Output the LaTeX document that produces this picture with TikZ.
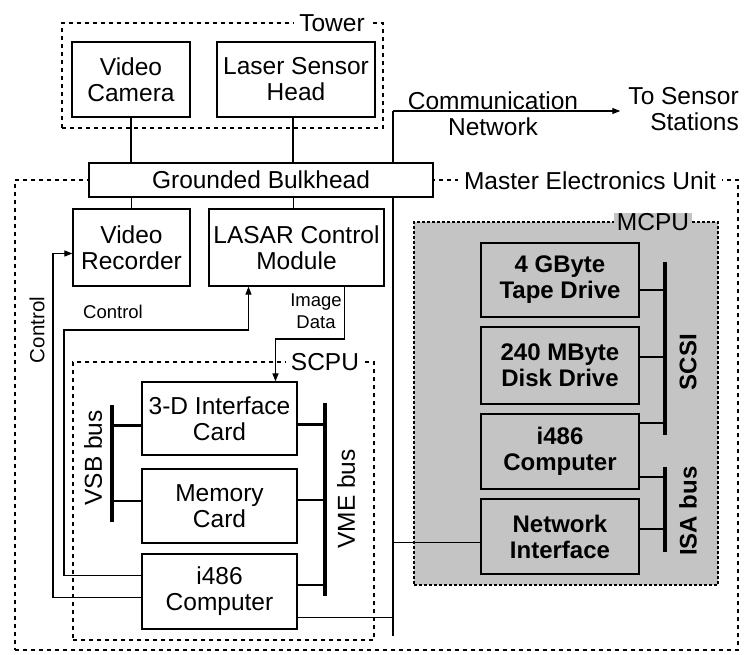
\documentclass[tikz,border=0pt]{standalone}
\usepackage{fontspec}
\setmainfont{Liberation Sans}
\usetikzlibrary{arrows.meta,calc}
\definecolor{mgray}{gray}{0.77}
\begin{document}
\begin{tikzpicture}[x=1pt,y=-1pt,
  lbl/.style={font=\fontsize{24.5}{26}\selectfont, align=center, inner sep=0pt},
  slbl/.style={font=\fontsize{18.5}{22}\selectfont, align=center, inner sep=0pt},
  box/.style={draw, line width=1.2pt, fill=white, lbl},
  mbox/.style={draw, line width=1.8pt, fill=mgray, lbl, font=\bfseries\fontsize{24}{26}\selectfont},
  cont/.style={draw, line width=1.2pt, dash pattern=on 4pt off 4pt, inner sep=0pt},
  wire/.style={line width=1.1pt},
  arr/.style={wire, -{Triangle[length=8pt,width=6pt]}},
  busbar/.style={line width=3.5pt},
  stub/.style={line width=2.4pt}]
\useasboundingbox (0,0) rectangle (744,654);

% containers
\node[cont, minimum width=723pt, minimum height=470pt] (meu) at (376.5,415) {};
\node[cont, minimum width=321pt, minimum height=105pt] (tower) at (222.5,75.5) {};
\node[cont, fill=mgray, line width=1.8pt, dash pattern=on 3pt off 2pt, minimum width=304pt, minimum height=363pt] (mcpu) at (566,403.5) {};
\node[cont, minimum width=301pt, minimum height=278pt] (scpu) at (223.5,501) {};

\node[lbl, fill=white, inner xsep=5pt] (towerl) at (332,23) {Tower};
\node[lbl, fill=white, inner xsep=6pt] (meul) at (590,181) {Master Electronics Unit};
\node[lbl, fill=white, inner xsep=5pt] (scpul) at (325,362) {SCPU};
\node[lbl, fill=mgray, inner xsep=3pt] (mcpul) at (653,222) {MCPU};

% boxes
\node[box, minimum width=118pt, minimum height=75pt] (cam) at (131,79.5) {Video\\Camera};
\node[box, minimum width=158pt, minimum height=75pt] (laser) at (296,79.5) {Laser Sensor\\Head};
\node[box, minimum width=344pt, minimum height=34pt] (bulk) at (261,180) {Grounded Bulkhead};
\node[box, minimum width=117pt, minimum height=77pt] (vrec) at (131.5,247.5) {Video\\Recorder};
\node[box, minimum width=175pt, minimum height=77pt] (lasar) at (296.5,247.5) {LASAR Control\\Module};
\node[box, minimum width=155pt, minimum height=73pt] (card3d) at (219.5,418.5) {3-D Interface\\Card};
\node[box, minimum width=155pt, minimum height=74pt] (mem) at (219.5,506) {Memory\\Card};
\node[box, minimum width=155pt, minimum height=75pt] (scomp) at (219.5,591.5) {i486\\Computer};

\node[mbox, minimum width=158pt, minimum height=74pt] (tape) at (560,280) {4 GByte\\Tape Drive};
\node[mbox, minimum width=158pt, minimum height=77pt] (disk) at (560,365.5) {240 MByte\\Disk Drive};
\node[mbox, minimum width=158pt, minimum height=75pt] (mcomp) at (560,451.5) {i486\\Computer};
\node[mbox, minimum width=158pt, minimum height=75pt] (netif) at (560,536.5) {Network\\Interface};

% texts
\node[lbl] (comm) at (493,114) {Communication\\Network};
\node[lbl, anchor=east, align=right] (sensor) at (739,109) {To Sensor\\Stations};
\node[slbl] (ctrll) at (113,312) {Control};
\node[slbl] (imgl) at (316,311) {Image\\Data};
\node[lbl, font=\fontsize{20.5}{22}\selectfont, rotate=90] (ctrlv) at (37,330) {Control};
\node[lbl, rotate=90] (vsbl) at (93,458) {VSB bus};
\node[lbl, rotate=90] (vmel) at (346,499) {VME bus};
\node[lbl, font=\bfseries\fontsize{24}{26}\selectfont, rotate=90] (scsil) at (688,362) {SCSI};
\node[lbl, font=\bfseries\fontsize{24}{26}\selectfont, rotate=90] (isal) at (688,511) {ISA bus};

% tower to bulkhead, bulkhead to boxes
\draw[wire] (cam.south) -- (cam.south |- bulk.north);
\draw[wire] ($(laser.south)+(-3,0)$) -- ($(laser.south |- bulk.north)+(-3,0)$);
\draw[wire] (vrec.north |- bulk.south) -- (vrec.north);
\draw[wire] ($(lasar.north |- bulk.south)+(-3,0)$) -- ($(lasar.north)+(-3,0)$);

% communication network trunk
\coordinate (vtop) at (393,111);
\coordinate (vbot) at (393,636);
\draw[wire] (vbot) -- (vbot |- bulk.south);
\draw[wire] (vtop |- bulk.north) -- (vtop);
\draw[arr, shorten >=8pt] (vtop) -- (vtop -| sensor.west);
\coordinate (nw) at ($(netif.west)+(0,6)$);
\draw[wire] (nw) -- (nw -| vbot);
\coordinate (se) at ($(scomp.east)+(0,26)$);
\draw[wire] (se) -- (se -| vbot);

% control lines
\coordinate (s1) at ($(scomp.west)+(0,-16)$);
\coordinate (c1) at (64,330);
\coordinate (lc) at ($(lasar.south)+(-48,0)$);
\draw[arr] (s1) -| (c1) -| (lc);
\coordinate (s2) at ($(scomp.west)+(0,6)$);
\coordinate (vw) at ($(vrec.west)+(0,6)$);
\draw[arr] (s2) -| (vw -| 53,0) -- (vw);

% image data
\coordinate (id1) at ($(lasar.south)+(48,0)$);
\coordinate (idm) at (344,339);
\coordinate (idt) at ($(card3d.north)+(56,0)$);
\draw[arr] (id1) -- (id1 |- idm) -| (idt);

% VSB bus
\coordinate (vsbT) at (112,405);
\coordinate (vsbB) at (112,522);
\draw[busbar] (vsbT) -- (vsbB);
\coordinate (a1) at ($(card3d.west)+(0,7)$);
\coordinate (a2) at ($(mem.west)+(0,-5)$);
\draw[stub] (a1) -- (a1 -| vsbT);
\draw[stub] (a2) -- (a2 -| vsbT);

% VME bus
\coordinate (vmeT) at (325,403);
\coordinate (vmeB) at (325,596);
\draw[busbar] (vmeT) -- (vmeB);
\coordinate (b1) at ($(card3d.east)+(0,6)$);
\coordinate (b2) at ($(mem.east)+(0,-6)$);
\coordinate (b3) at ($(scomp.east)+(0,-6.5)$);
\draw[stub] (b1) -- (b1 -| vmeT);
\draw[stub] (b2) -- (b2 -| vmeT);
\draw[stub] (b3) -- (b3 -| vmeT);

% SCSI bus
\coordinate (scT) at (665,262);
\coordinate (scB) at (665,435);
\draw[busbar] (scT) -- (scB);
\coordinate (d1) at ($(tape.east)+(0,10)$);
\coordinate (d2) at ($(disk.east)+(0,-8.5)$);
\coordinate (d3) at ($(mcomp.east)+(0,-28.5)$);
\draw[stub] (d1) -- (d1 -| scT);
\draw[stub] (d2) -- (d2 -| scT);
\draw[stub] (d3) -- (d3 -| scT);

% ISA bus
\coordinate (isT) at (665,467);
\coordinate (isB) at (665,552);
\draw[busbar] (isT) -- (isB);
\coordinate (e1) at ($(mcomp.east)+(0,25.5)$);
\coordinate (e2) at ($(netif.east)+(0,-7.5)$);
\draw[stub] (e1) -- (e1 -| isT);
\draw[stub] (e2) -- (e2 -| isT);
\end{tikzpicture}
\end{document}
